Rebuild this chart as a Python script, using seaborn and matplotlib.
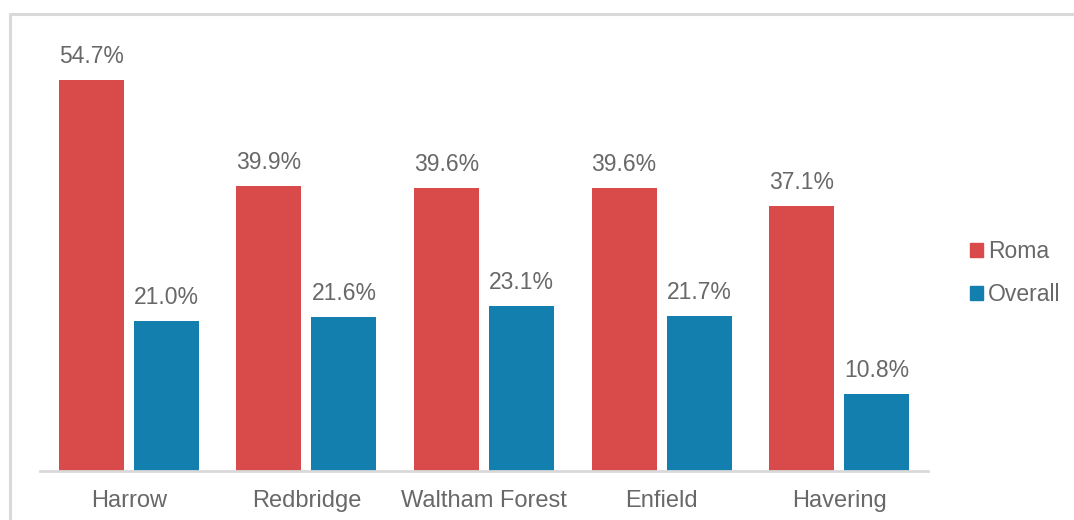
import matplotlib
matplotlib.use("Agg")
import matplotlib.pyplot as plt
from matplotlib.lines import Line2D
import pandas as pd
import seaborn as sns

boroughs = ["Harrow", "Redbridge", "Waltham Forest", "Enfield", "Havering"]
roma = [54.7, 39.9, 39.6, 39.6, 37.1]
overall = [21.0, 21.6, 23.1, 21.7, 10.8]
series = ["Roma", "Overall"]
colors = ["#D94B4B", "#137FAE"]

df = pd.DataFrame({
    "Borough": boroughs * 2,
    "Group": [series[0]] * len(boroughs) + [series[1]] * len(boroughs),
    "Value": roma + overall,
})

sns.set_theme(style="white")
plt.rcParams["font.family"] = ["Liberation Sans", "DejaVu Sans"]
text_color = "#686868"

W, H = 1074, 520
fig = plt.figure(figsize=(W / 100, H / 100), dpi=100)

# axes placed in pixel terms: x 40..928, y baseline 471, top 42
ax = fig.add_axes([40 / W, 1 - 471 / H, (928 - 40) / W, (471 - 42) / H])

sns.barplot(data=df, x="Borough", y="Value", hue="Group", order=boroughs,
            hue_order=series, palette=colors, width=0.845, gap=0.134,
            errorbar=None, ax=ax, saturation=1, edgecolor="none", legend=False)

ax.set_ylim(0, 471 / (471 - 80) * 54.7 * (471 - 42) / 471)
ax.set_xlim(-0.5, len(boroughs) - 0.5)

for container in ax.containers:
    ax.bar_label(container, labels=[f"{v:.1f}%" for v in container.datavalues],
                 padding=8.5, fontsize=16.5, color=text_color)

for side in ["top", "right", "left"]:
    ax.spines[side].set_visible(False)
ax.spines["bottom"].set_color("#D9D9D9")
ax.spines["bottom"].set_linewidth(2)
ax.set_yticks([])
ax.set_xlabel("")
ax.set_ylabel("")
ax.tick_params(axis="x", length=0, labelsize=17, colors=text_color, pad=14)

handles = [plt.Rectangle((0, 0), 1, 1, color=c) for c in colors]
leg = fig.legend(handles, series, loc="center left",
                 bbox_to_anchor=(970 / W, 1 - 273 / H), frameon=False,
                 fontsize=16.5, handlelength=0.57, handleheight=0.57,
                 handletextpad=0.22, labelspacing=0.85,
                 borderpad=0, borderaxespad=0)
for t in leg.get_texts():
    t.set_color(text_color)

# light frame along the top and left edges of the chart area
frame = "#D9D9D9"
fig.add_artist(Line2D([10 / W, 1.0], [1 - 14 / H, 1 - 14 / H],
                      transform=fig.transFigure, color=frame, lw=2.2))
fig.add_artist(Line2D([10 / W, 10 / W], [0, 1 - 14 / H],
                      transform=fig.transFigure, color=frame, lw=2.2))

fig.savefig("out.png", dpi=100, facecolor="white")
